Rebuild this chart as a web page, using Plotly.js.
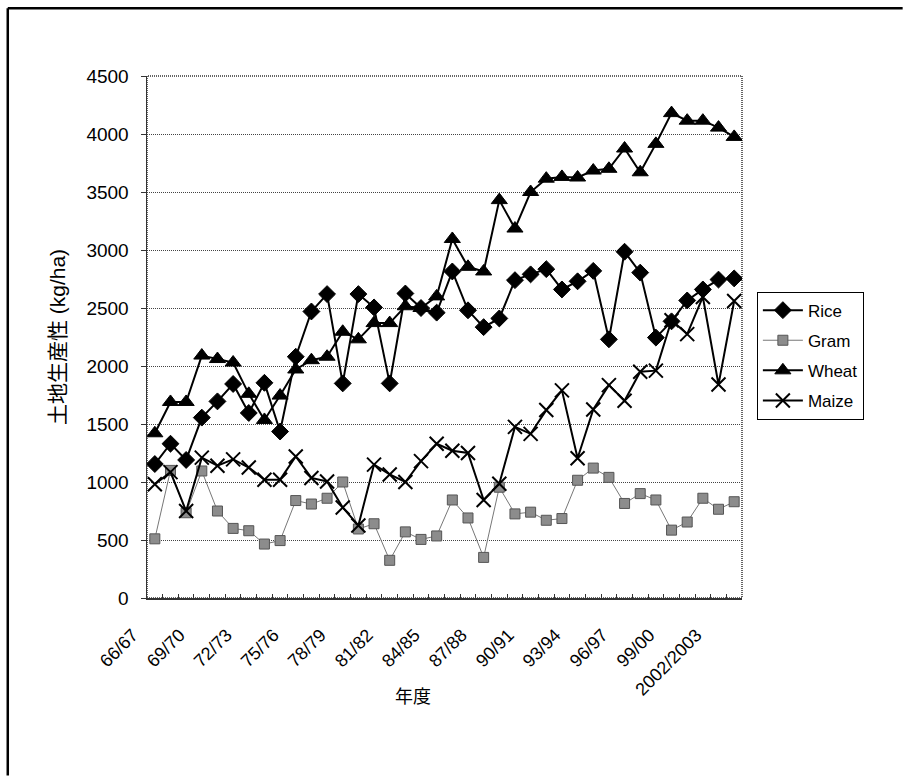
<!DOCTYPE html>
<html>
<head>
<meta charset="utf-8">
<script src="https://cdn.plot.ly/plotly-3.0.1.min.js"></script>
<style>
  html, body { margin: 0; padding: 0; background: #fff; overflow: hidden; }
  #chart { width: 906px; height: 778px; }
</style>
</head>
<body>
<div id="chart"></div>
<script>
const categories = [
  "66/67","67/68","68/69","69/70","70/71","71/72","72/73","73/74","74/75","75/76",
  "76/77","77/78","78/79","79/80","80/81","81/82","82/83","83/84","84/85","85/86",
  "86/87","87/88","88/89","89/90","90/91","91/92","92/93","93/94","94/95","95/96",
  "96/97","97/98","98/99","99/00","2000/2001","2001/2002","2002/2003","2003/2004"
];
const tickLabels = [
  "66/67","","","69/70","","","72/73","","","75/76",
  "","","78/79","","","81/82","","","84/85","",
  "","87/88","","","90/91","","","93/94","","",
  "96/97","","","99/00","","","2002/2003",""
];
const rice = [1155,1330,1190,1555,1695,1845,1595,1855,1435,2080,
  2470,2620,1850,2620,2505,1850,2625,2500,2460,2815,
  2480,2335,2410,2740,2790,2835,2660,2730,2820,2230,
  2985,2805,2245,2385,2565,2660,2745,2755];
const gram = [510,1100,735,1095,750,600,580,465,495,840,
  810,860,1000,595,640,325,570,505,535,845,
  690,350,955,725,740,670,685,1015,1120,1040,
  815,900,845,585,655,860,765,830];
const wheat = [1420,1690,1690,2090,2060,2030,1760,1535,1745,1970,
  2050,2080,2295,2230,2370,2370,2515,2500,2600,3095,
  2855,2815,3430,3185,3500,3615,3630,3625,3685,3700,
  3875,3670,3915,4180,4115,4115,4055,3975];
const maize = [980,1085,750,1210,1140,1195,1125,1020,1020,1220,
  1035,1005,780,625,1150,1065,1000,1180,1330,1270,
  1250,845,985,1475,1415,1620,1790,1205,1625,1835,
  1700,1950,1960,2395,2275,2595,1840,2560];
const seriesNames = ["Rice","Gram","Wheat","Maize"];
const yTitle = "土地生産性 (kg/ha)";
const xTitle = "年度";

const FONT = "Liberation Sans, Arial, Noto Sans CJK JP, sans-serif";

const traces = [
  {x: categories, y: rice, name: seriesNames[0], legendgroup: "g1", type: "scatter", mode: "lines+markers",
   line: {color: "#000", width: 2},
   marker: {symbol: "diamond", size: 13, color: "#000", line: {color: "#000", width: 1}}},
  {x: categories, y: gram, name: seriesNames[1], legendgroup: "g2", type: "scatter", mode: "lines+markers",
   line: {color: "#777", width: 1},
   marker: {symbol: "square", size: 10, color: "#8c8c8c", line: {color: "#555", width: 1}}},
  {x: categories, y: wheat, name: seriesNames[2], legendgroup: "g3", type: "scatter", mode: "lines+markers",
   line: {color: "#000", width: 2},
   marker: {symbol: "triangle-up", size: 14, color: "#000", line: {color: "#000", width: 1}}},
  {x: categories, y: maize, name: seriesNames[3], legendgroup: "g4", type: "scatter", mode: "lines+markers",
   line: {color: "#000", width: 2},
   marker: {symbol: "x-thin-open", size: 14, color: "#000", line: {color: "#000", width: 2}}}
];

const layout = {
  width: 906, height: 778,
  margin: {l: 147, r: 164, t: 76, b: 180, pad: 0},
  paper_bgcolor: "#fff", plot_bgcolor: "#fff",
  font: {family: FONT, color: "#000", size: 17},
  showlegend: true,
  legend: {
    x: 1.025, xanchor: "left", y: 0.587, yanchor: "top",
    bordercolor: "#000", borderwidth: 1, bgcolor: "#fff",
    font: {family: FONT, size: 17, color: "#000"},
    itemwidth: 40, tracegroupgap: 5, traceorder: "grouped"
  },
  xaxis: {
    type: "category",
    range: [-0.5, 37.5],
    tickmode: "array", tickvals: categories, ticktext: tickLabels,
    tickson: "boundaries",
    ticks: "inside", ticklen: 4, tickcolor: "#333",
    tickangle: -45,
    ticklabelshift: -22, ticklabelstandoff: 18,
    tickfont: {family: FONT, size: 18, color: "#000"},
    showgrid: false, zeroline: false,
    showline: true, linecolor: "#333", linewidth: 1.5,
    automargin: false, fixedrange: true
  },
  yaxis: {
    range: [0, 4500], dtick: 500, tick0: 0,
    ticks: "outside", ticklen: 5, tickcolor: "#333",
    ticklabelstandoff: 8,
    tickfont: {family: FONT, size: 19, color: "#000"},
    showgrid: true, gridcolor: "#444", gridwidth: 1, griddash: "1px,1px",
    zeroline: false,
    showline: true, linecolor: "#333", linewidth: 1.5,
    title: {text: yTitle, font: {family: FONT, size: 21, color: "#000"}, standoff: 15},
    automargin: false, fixedrange: true
  },
  annotations: [
    {text: xTitle, xref: "paper", yref: "paper", x: 0.447, y: -0.189,
     xanchor: "center", yanchor: "middle", showarrow: false,
     font: {family: FONT, size: 18, color: "#000"}}
  ],
  shapes: [
    {type: "rect", xref: "paper", yref: "paper", x0: 0, x1: 1, y0: 0, y1: 1,
     line: {color: "#333", width: 1.5, dash: "1px,1px"}, fillcolor: "rgba(0,0,0,0)", layer: "below"},
    {type: "line", xref: "paper", yref: "paper", x0: -0.234, x1: -0.234, y0: -0.34, y1: 1.13,
     line: {color: "#000", width: 2.5}},
    {type: "line", xref: "paper", yref: "paper", x0: -0.234, x1: 1.27, y0: 1.13, y1: 1.13,
     line: {color: "#000", width: 2.5}}
  ]
};

Plotly.newPlot("chart", traces, layout, {displayModeBar: false, staticPlot: true});
</script>
</body>
</html>
